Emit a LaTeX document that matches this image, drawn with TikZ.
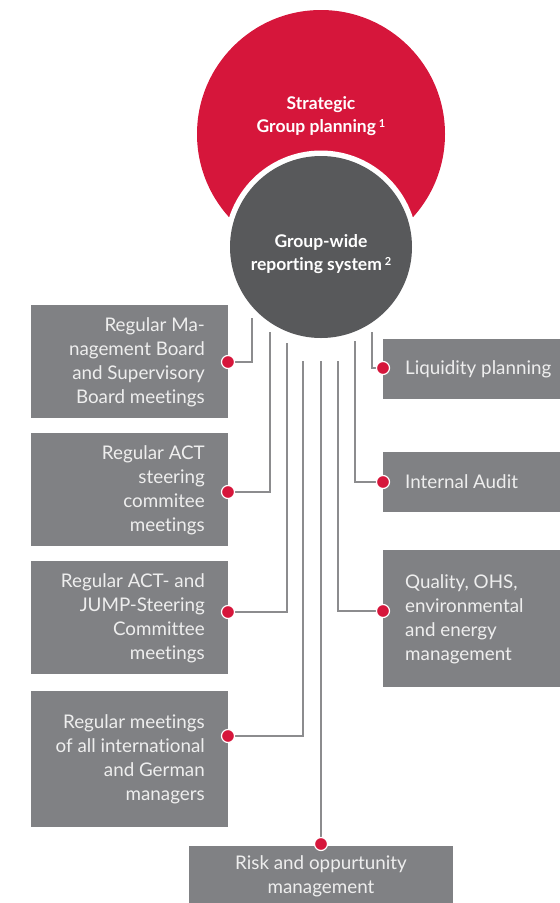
\documentclass[tikz,border=0pt]{standalone}
\usepackage{fontspec}
\setmainfont{Lato}[Ligatures={NoCommon}]
\definecolor{cred}{HTML}{D6163B}
\definecolor{cgrey}{HTML}{58595B}
\definecolor{cbox}{HTML}{808184}
\definecolor{cline}{HTML}{8C8C8E}
\definecolor{ctext}{HTML}{EEEEEE}
\begin{document}
\begin{tikzpicture}[x=1pt,y=-1pt,
  box/.style={fill=cbox, inner sep=0pt, outer sep=0pt},
  lbox/.style={box, minimum width=197pt},
  rbox/.style={box, minimum width=177pt},
  btext/.style={text=ctext, font=\fontsize{18.8}{24}\selectfont, inner sep=0pt},
  ltext/.style={btext, align=right, anchor=east},
  rtext/.style={btext, align=left, anchor=west},
  title/.style={text=white, font=\bfseries\fontsize{17.5}{23}\selectfont, align=center, inner sep=0pt},
  dot/.style={circle, fill=cred, draw=white, line width=1.2pt, minimum size=13pt, inner sep=0pt},
  conn/.style={draw=cline, line width=1.3pt}
]
\useasboundingbox (0,0) rectangle (560,903);
% circles
\node[circle, fill=cred, minimum size=248pt, inner sep=0pt] (plan) at (321,134) {};
\node[circle, fill=white, minimum size=193pt, inner sep=0pt] (ring) at (321,247) {};
\node[circle, fill=cgrey, minimum size=182pt, inner sep=0pt] (report) at (321,247) {};
\node[title] (plant) at (321,116) {Strategic\\Group planning\,{\fontsize{11}{11}\selectfont\raisebox{5pt}{1}}};
\node[title] (reportt) at (321,254) {Group-wide\\reporting system\,{\fontsize{11}{11}\selectfont\raisebox{5pt}{2}}};
% boxes
\node[lbox, minimum height=113pt] (l1) at (129.5,361.5) {};
\node[lbox, minimum height=113pt] (l2) at (129.5,489.5) {};
\node[lbox, minimum height=113pt] (l3) at (129.5,617.5) {};
\node[lbox, minimum height=136pt] (l4) at (129.5,759) {};
\node[rbox, minimum height=60pt] (r1) at (471.5,369) {};
\node[rbox, minimum height=60pt] (r2) at (471.5,482) {};
\node[rbox, minimum height=137pt] (r3) at (471.5,618.5) {};
\node[box, minimum width=264pt, minimum height=57pt] (bb) at (321,874.5) {};
% texts
\node[ltext] (l1t) at (205,362) {Regular Ma-\\nagement Board\\and Supervisory\\Board meetings};
\node[ltext] (l2t) at (205,490) {Regular ACT\\steering\\commitee\\meetings};
\node[ltext] (l3t) at (205,618) {Regular ACT- and\\JUMP-Steering\\Committee\\meetings};
\node[ltext] (l4t) at (205,759) {Regular meetings\\of all international\\and German\\managers};
\node[rtext] (r1t) at (405,369) {Liquidity planning};
\node[rtext] (r2t) at (405,482) {Internal Audit};
\node[rtext] (r3t) at (405,619) {Quality, OHS,\\environmental\\and energy\\management};
\node[btext, align=center] (bbt) at (321,876) {Risk and oppurtunity\\management};
% connector start points
\coordinate (s1) at (252,318);
\coordinate (s2) at (270,332);
\coordinate (s3) at (287,343);
\coordinate (s4) at (303,361);
\coordinate (s5) at (321,361);
\coordinate (s6) at (338,361);
\coordinate (s7) at (355,341);
\coordinate (s8) at (372,332);
% dots
\coordinate (d1) at (228,362);
\coordinate (d2) at (228,492);
\coordinate (d3) at (228,612);
\coordinate (d4) at (228,736);
\coordinate (d5) at (321,844);
\coordinate (d6) at (383,611);
\coordinate (d7) at (383,482);
\coordinate (d8) at (383,368);
\draw[conn] (s1) |- (d1);
\draw[conn] (s2) |- (d2);
\draw[conn] (s3) |- (d3);
\draw[conn] (s4) |- (d4);
\draw[conn] (s5) -- (d5);
\draw[conn] (s6) |- (d6);
\draw[conn] (s7) |- (d7);
\draw[conn] (s8) |- (d8);
\foreach \d in {d1,d2,d3,d4,d5,d6,d7,d8} \node[dot] (n\d) at (\d) {};
\end{tikzpicture}
\end{document}
